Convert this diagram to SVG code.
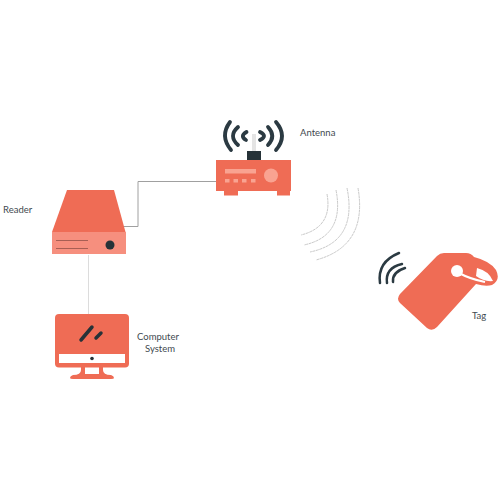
<svg xmlns="http://www.w3.org/2000/svg" width="500" height="500" viewBox="0 0 500 500">
<style>
text{font-family:"Lato","Liberation Sans",sans-serif;font-size:9.5px;fill:#3f4a50}
.o{fill:#ef6c55}
.d{fill:#263238}
.wave{fill:none;stroke:#c9c9c9;stroke-width:1;stroke-dasharray:3 .6}
.arc{fill:none;stroke:#2b3a42;stroke-linecap:round}
</style>
<g id="connectors" fill="none">
<path d="M123 226.500H138V181.500H217" stroke="#a0a0a0" stroke-width="1"/>
<path d="M88.500 255V314" stroke="#dcdcdc" stroke-width="1"/>
</g>
<g id="antenna">
<path class="arc" stroke-width="3.800" d="M230 122Q219.500 136 231 150"/>
<path class="arc" stroke-width="3.800" d="M238 127Q228 136 238 145"/>
<path class="arc" stroke-width="3.800" d="M246.500 132Q239.500 136 246 140"/>
<path class="arc" stroke-width="3.800" d="M276 122Q288 136 276 150"/>
<path class="arc" stroke-width="3.800" d="M268 127Q276.500 136 268 145"/>
<path class="arc" stroke-width="3.800" d="M260 132Q268 136 260 140"/>
<rect x="252" y="134" width="4" height="18" fill="#e4e4e4"/>
<rect class="d" x="247" y="151" width="14" height="9.500"/>
<rect class="o" x="216" y="160" width="75" height="31"/>
<rect class="o" x="224" y="190" width="14" height="5.500"/>
<rect class="o" x="277" y="190" width="13" height="5.500"/>
<rect x="225" y="169" width="31" height="4.500" fill="#f9a391"/>
<g fill="#f9a391"><rect x="225" y="179" width="4.500" height="3.500"/><rect x="233.500" y="179" width="4.500" height="3.500"/><rect x="242" y="179" width="4.500" height="3.500"/><rect x="251" y="179" width="4.500" height="3.500"/></g>
<circle cx="271" cy="175.500" r="7" fill="#f9a391"/>
<text x="300" y="136">Antenna</text>
</g>
<g id="reader">
<path class="o" d="M67 190H114L125.500 232H52Z"/>
<rect x="52" y="232" width="74" height="22" fill="#f68f7e"/>
<path d="M56 240.500H88M56 248.500H88" stroke="#a85f54" stroke-width="1"/>
<circle class="d" cx="110" cy="245" r="4.500"/>
<text x="3" y="212.500">Reader</text>
</g>
<g id="computer">
<rect class="o" x="55" y="314" width="74" height="53.500" rx="4"/>
<rect x="59" y="354" width="66" height="9" fill="#fff"/>
<circle class="d" cx="92" cy="358.500" r="1.800"/>
<path d="M81 340L92 327" stroke="#263238" stroke-width="3.500" stroke-linecap="round"/>
<path d="M96 338L101 333" stroke="#263238" stroke-width="3.500" stroke-linecap="round"/>
<path class="o" d="M81 367H103V370Q103 375 111 375Q114 376 114 378Q114 379 111 379H73Q70 379 70 378Q70 376 73 375Q81 375 81 370ZM85 367H99V374H85Z" fill-rule="evenodd"/>
<text x="137" y="340">Computer</text>
<text x="145" y="352">System</text>
</g>
<g id="waves">
<path class="wave" d="M327 194Q333 227 301 235"/>
<path class="wave" d="M336 190Q345 236 304 245"/>
<path class="wave" d="M347 188Q358 242 310 252"/>
<path class="wave" d="M358 188Q368 246 316 260"/>
</g>
<g id="tag">
<path class="arc" stroke-width="2.500" d="M380 283Q377 262 399 253"/>
<path class="arc" stroke-width="2.500" d="M387 283Q385 268 402 264"/>
<path class="arc" stroke-width="2.500" d="M393 282Q392 272 405 268"/>
<path class="o" d="M437 256Q440 253 444 253H466Q471 253 474 257Q490 261 496 270Q501 280 492 285Q486 287 476 284L437 327Q432 332 427 328L400 303Q396 299 400 294Z"/>
<path fill="#fff" d="M477 268Q489 271 493 281Q484 282 476 276Z"/>
<circle cx="457" cy="271" r="6" fill="#fff"/>
<path d="M459 273Q470 279 485 282" fill="none" stroke="#fff" stroke-width="2"/>
<text x="472" y="319">Tag</text>
</g>
</svg>
